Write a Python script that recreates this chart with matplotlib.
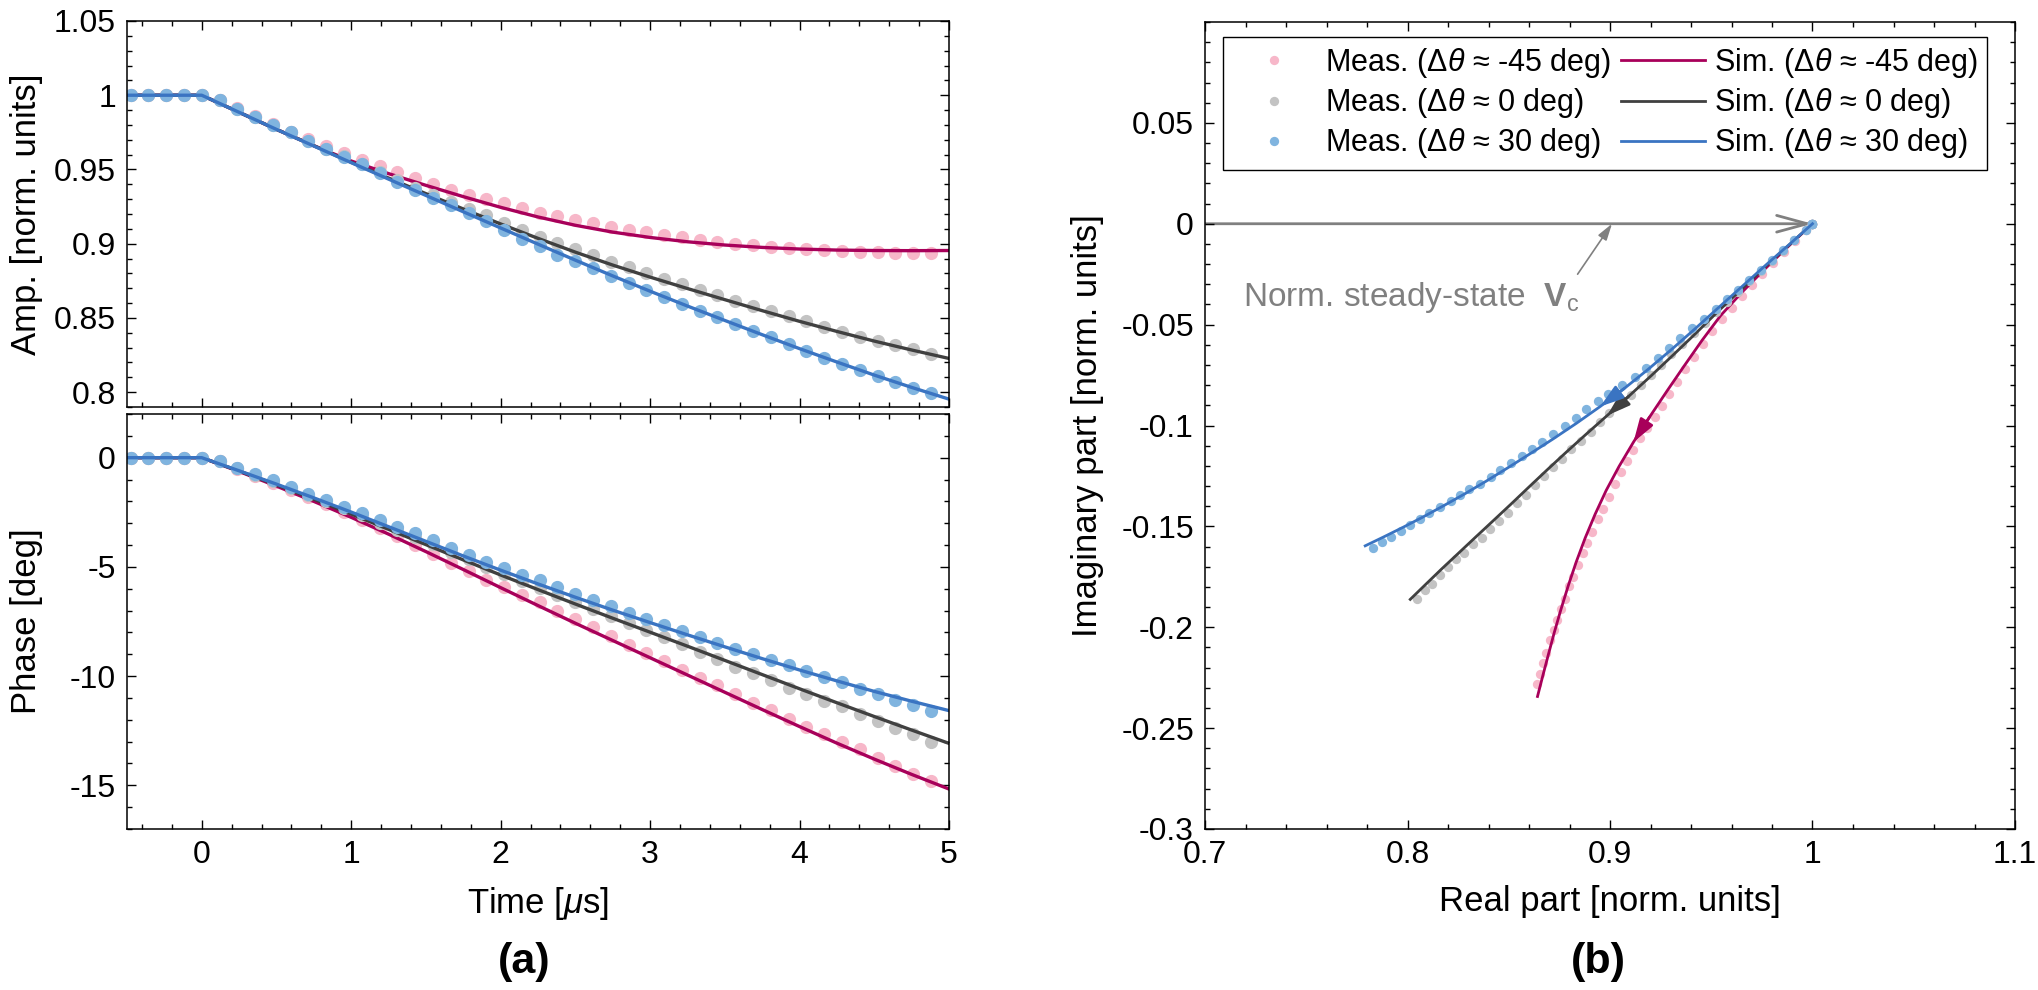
import numpy as np
import matplotlib
matplotlib.use("Agg")
import matplotlib.pyplot as plt
from matplotlib.patches import FancyArrowPatch
from matplotlib.ticker import MultipleLocator, FuncFormatter

# measured samples (time in us)
t_meas = [-0.476, -0.357, -0.238, -0.119, 0.0, 0.119, 0.238, 0.357, 0.476, 0.595,
          0.714, 0.833, 0.952, 1.071, 1.190, 1.309, 1.428, 1.547, 1.666, 1.785,
          1.904, 2.023, 2.142, 2.261, 2.380, 2.499, 2.618, 2.737, 2.856, 2.975,
          3.094, 3.213, 3.332, 3.451, 3.570, 3.689, 3.808, 3.927, 4.046, 4.165,
          4.284, 4.403, 4.522, 4.641, 4.760, 4.879]

amp_meas_m45 = [1.0, 1.0, 1.0, 1.0, 1.0,
                0.9966, 0.9912, 0.9860, 0.9805, 0.9755, 0.9705, 0.9660, 0.9610, 0.9565, 0.9520,
                0.9480, 0.9440, 0.9400, 0.9365, 0.9330, 0.9300,
                0.9271, 0.9238, 0.9210, 0.9184, 0.9160, 0.9137, 0.9115, 0.9095, 0.9076, 0.9059,
                0.9043, 0.9028, 0.9014, 0.9001, 0.8990, 0.8980, 0.8971, 0.8964, 0.8957, 0.8951,
                0.8946, 0.8942, 0.8939, 0.8937, 0.8936]
amp_meas_0 = [1.0, 1.0, 1.0, 1.0, 1.0,
              0.9966, 0.9910, 0.9854, 0.9800, 0.9750, 0.9690, 0.9637, 0.9588, 0.9536, 0.9480,
              0.9428, 0.9375, 0.9325, 0.9280, 0.9235, 0.9190,
              0.9142, 0.9093, 0.9044, 0.9004, 0.8964, 0.8924, 0.8880, 0.8842, 0.8802, 0.8765,
              0.8727, 0.8690, 0.8654, 0.8616, 0.8580, 0.8544, 0.8511, 0.8476, 0.8440, 0.8406,
              0.8373, 0.8343, 0.8315, 0.8288, 0.8260]
amp_meas_30 = [1.0, 1.0, 1.0, 1.0, 1.0,
               0.9966, 0.9910, 0.9854, 0.9800, 0.9750, 0.9690, 0.9637, 0.9586, 0.9534, 0.9474,
               0.9418, 0.9362, 0.9310, 0.9261, 0.9205, 0.9153,
               0.9093, 0.9031, 0.8982, 0.8927, 0.8882, 0.8833, 0.8782, 0.8733, 0.8687, 0.8642,
               0.8593, 0.8544, 0.8504, 0.8456, 0.8409, 0.8369, 0.8327, 0.8280, 0.8233, 0.8193,
               0.8149, 0.8112, 0.8071, 0.8031, 0.7993]

ph_meas_m45 = [0, 0, 0, 0, 0,
               -0.17, -0.50, -0.82, -1.14, -1.46, -1.79, -2.13, -2.48, -2.84, -3.21,
               -3.60, -4.00, -4.40, -4.80, -5.20, -5.58,
               -5.92, -6.28, -6.62, -7.00, -7.39, -7.74, -8.15, -8.57, -8.95, -9.31,
               -9.74, -10.08, -10.42, -10.82, -11.23, -11.54, -11.95, -12.31, -12.66, -13.00,
               -13.35, -13.77, -14.11, -14.46, -14.80]
ph_meas_0 = [0, 0, 0, 0, 0,
             -0.17, -0.48, -0.78, -1.07, -1.38, -1.69, -2.00, -2.32, -2.64, -2.97,
             -3.30, -3.63, -3.97, -4.32, -4.66, -5.00,
             -5.33, -5.64, -5.96, -6.28, -6.60, -6.92, -7.23, -7.57, -7.88, -8.20,
             -8.54, -8.89, -9.20, -9.57, -9.88, -10.20, -10.54, -10.80, -11.15, -11.39,
             -11.74, -12.05, -12.39, -12.66, -13.00]
ph_meas_30 = [0, 0, 0, 0, 0,
              -0.17, -0.47, -0.76, -1.04, -1.34, -1.64, -1.94, -2.24, -2.54, -2.85,
              -3.16, -3.47, -3.79, -4.13, -4.45, -4.76,
              -5.05, -5.35, -5.62, -5.90, -6.22, -6.53, -6.81, -7.10, -7.38, -7.66,
              -7.93, -8.22, -8.50, -8.76, -9.00, -9.26, -9.50, -9.75, -10.03, -10.28,
              -10.57, -10.82, -11.08, -11.34, -11.60]

# simulation
t_sim = [-0.5, 0.0, 0.25, 0.5, 0.75, 1.0, 1.25, 1.5, 1.75, 2.0, 2.25,
         2.5, 2.75, 3.0, 3.25, 3.5, 3.75, 4.0, 4.25, 4.5, 4.75, 5.0]
amp_sim_m45 = [1.0, 1.0, 0.9885, 0.9770, 0.9660, 0.9557, 0.9472, 0.9393, 0.9317, 0.9245, 0.9180,
               0.9124, 0.9078, 0.9042, 0.9013, 0.8991, 0.8975, 0.8964, 0.8957, 0.8954, 0.8953, 0.8954]
amp_sim_0 = [1.0, 1.0, 0.9885, 0.9770, 0.9660, 0.9548, 0.9442, 0.9337, 0.9234, 0.9133, 0.9036,
             0.8943, 0.8856, 0.8775, 0.8698, 0.8623, 0.8549, 0.8477, 0.8409, 0.8344, 0.8284, 0.8227]
amp_sim_30 = [1.0, 1.0, 0.9885, 0.9770, 0.9658, 0.9546, 0.9435, 0.9325, 0.9215, 0.9106, 0.8997,
              0.8889, 0.8783, 0.8680, 0.8580, 0.8483, 0.8387, 0.8293, 0.8203, 0.8115, 0.8032, 0.7953]
ph_sim_m45 = [0, 0, -0.63, -1.30, -2.00, -2.73, -3.50, -4.30, -5.12, -5.95, -6.77,
              -7.58, -8.37, -9.16, -9.95, -10.74, -11.53, -12.31, -13.07, -13.80, -14.50, -15.17]
ph_sim_0 = [0, 0, -0.61, -1.24, -1.90, -2.58, -3.28, -3.98, -4.68, -5.37, -6.04,
            -6.70, -7.35, -7.99, -8.63, -9.28, -9.93, -10.58, -11.22, -11.85, -12.47, -13.08]
ph_sim_30 = [0, 0, -0.60, -1.21, -1.84, -2.49, -3.16, -3.83, -4.50, -5.15, -5.78,
             -6.39, -6.98, -7.55, -8.11, -8.66, -9.20, -9.72, -10.22, -10.70, -11.15, -11.58]

labels_meas = [r'Meas. ($\Delta\theta$ ≈ -45 deg)', r'Meas. ($\Delta\theta$ ≈ 0 deg)',
               r'Meas. ($\Delta\theta$ ≈ 30 deg)']
labels_sim = [r'Sim. ($\Delta\theta$ ≈ -45 deg)', r'Sim. ($\Delta\theta$ ≈ 0 deg)',
              r'Sim. ($\Delta\theta$ ≈ 30 deg)']

# arrow heads on the IQ traces at this simulation time
t_arrow_from = 2.0
t_arrow_to = 2.25
# annotation of the steady-state vector
vc_text_pos = (0.719, -0.041)
vc_arrow_tail = (0.884, -0.025)
vc_arrow_head = (0.901, 0.0)

meas_colors = ['#F7B7C9', '#C3C3C3', '#80B4DF']
sim_colors = ['#A8005A', '#404040', '#3A74C2']
grey = '#808080'

plt.rcParams['font.family'] = ['Liberation Sans', 'DejaVu Sans']
plt.rcParams['mathtext.fontset'] = 'custom'
plt.rcParams['mathtext.rm'] = 'Liberation Sans'
plt.rcParams['mathtext.it'] = 'Liberation Sans:italic'
plt.rcParams['mathtext.bf'] = 'Liberation Sans:bold'
plt.rcParams['axes.unicode_minus'] = False

W, H = 2038, 990
fig = plt.figure(figsize=(W / 100, H / 100), dpi=100)
ax_amp = fig.add_axes([127 / W, 1 - 407 / H, 822 / W, 386 / H])
ax_ph = fig.add_axes([127 / W, 1 - 829 / H, 822 / W, 415 / H])
ax_iq = fig.add_axes([1205 / W, 1 - 829 / H, 810 / W, 807 / H])

fmt = FuncFormatter(lambda v, p: '%g' % round(v, 6))


def style(ax):
    ax.tick_params(which='both', direction='in', top=True, right=True,
                   labelsize=23, width=1.0, pad=8)
    ax.tick_params(which='major', length=6.5)
    ax.tick_params(which='minor', length=3.3)
    for s in ax.spines.values():
        s.set_linewidth(1.1)
    ax.xaxis.set_major_formatter(fmt)
    ax.yaxis.set_major_formatter(fmt)


amps_meas = [amp_meas_m45, amp_meas_0, amp_meas_30]
phs_meas = [ph_meas_m45, ph_meas_0, ph_meas_30]
amps_sim = [amp_sim_m45, amp_sim_0, amp_sim_30]
phs_sim = [ph_sim_m45, ph_sim_0, ph_sim_30]

# (a) amplitude and phase vs time: each case meas then sim
for i in range(3):
    ax_amp.plot(t_meas, amps_meas[i], 'o', color=meas_colors[i], ms=9.5, mec='none')
    ax_amp.plot(t_sim, amps_sim[i], '-', color=sim_colors[i], lw=2.4)
    ax_ph.plot(t_meas, phs_meas[i], 'o', color=meas_colors[i], ms=9.5, mec='none')
    ax_ph.plot(t_sim, phs_sim[i], '-', color=sim_colors[i], lw=2.4)

for ax in (ax_amp, ax_ph):
    style(ax)
    ax.set_xlim(-0.5, 5)
    ax.xaxis.set_major_locator(MultipleLocator(1))
    ax.xaxis.set_minor_locator(MultipleLocator(0.2))

ax_amp.set_ylim(0.79, 1.05)
ax_amp.set_yticks([0.8, 0.85, 0.9, 0.95, 1.0, 1.05])
ax_amp.yaxis.set_minor_locator(MultipleLocator(0.01))
ax_amp.tick_params(labelbottom=False)
ax_amp.set_ylabel('Amp. [norm. units]', fontsize=25)
ax_amp.yaxis.set_label_coords(-0.102, 0.5)

ax_ph.set_ylim(-17, 2)
ax_ph.set_yticks([-15, -10, -5, 0])
ax_ph.yaxis.set_minor_locator(MultipleLocator(1))
ax_ph.set_ylabel('Phase [deg]', fontsize=25)
ax_ph.yaxis.set_label_coords(-0.102, 0.5)
ax_ph.set_xlabel(r'Time [$\mu$s]', fontsize=25)
ax_ph.xaxis.set_label_coords(0.5, -0.135)

# (b) complex plane
ax_iq.add_patch(FancyArrowPatch((0.0, 0.0), (1.0, 0.0),
                                arrowstyle='->,head_length=22,head_width=6',
                                mutation_scale=1, color=grey, lw=2.0,
                                shrinkA=0, shrinkB=0, zorder=1.5))

handles_meas = []
handles_sim = []
ts = list(t_sim)
j0 = ts.index(t_arrow_from)
j1 = ts.index(t_arrow_to)
for i in range(3):
    a = np.array(amps_meas[i])
    p = np.radians(phs_meas[i])
    h, = ax_iq.plot(a * np.cos(p), a * np.sin(p), 'o', color=meas_colors[i],
                    ms=6.7, mec='none', label=labels_meas[i])
    handles_meas.append(h)

    a = np.array(amps_sim[i])
    p = np.radians(phs_sim[i])
    re = a * np.cos(p)
    im = a * np.sin(p)
    h, = ax_iq.plot(re, im, '-', color=sim_colors[i], lw=2.0, label=labels_sim[i])
    handles_sim.append(h)
    ax_iq.add_patch(FancyArrowPatch((re[j0], im[j0]), (re[j1], im[j1]),
                                    arrowstyle='-|>,head_length=14,head_width=4.5',
                                    mutation_scale=1, color=sim_colors[i], lw=2.0,
                                    shrinkA=0, shrinkB=0, zorder=3))

ax_iq.text(vc_text_pos[0], vc_text_pos[1], r'Norm. steady-state  $\mathbf{V}_\mathrm{c}$',
           color=grey, fontsize=24, va='baseline', ha='left')
ax_iq.annotate('', xy=vc_arrow_head, xytext=vc_arrow_tail,
               arrowprops=dict(arrowstyle='-|>,head_length=10,head_width=3',
                               mutation_scale=1, color=grey, lw=1.2,
                               shrinkA=0, shrinkB=0))

style(ax_iq)
ax_iq.set_xlim(0.7, 1.1)
ax_iq.set_ylim(-0.3, 0.1)
ax_iq.set_xticks([0.7, 0.8, 0.9, 1.0, 1.1])
ax_iq.xaxis.set_minor_locator(MultipleLocator(0.02))
ax_iq.set_yticks([-0.3, -0.25, -0.2, -0.15, -0.1, -0.05, 0.0, 0.05])
ax_iq.yaxis.set_minor_locator(MultipleLocator(0.01))
ax_iq.set_xlabel('Real part [norm. units]', fontsize=25)
ax_iq.xaxis.set_label_coords(0.5, -0.07)
ax_iq.set_ylabel('Imaginary part [norm. units]', fontsize=25)
ax_iq.yaxis.set_label_coords(-0.125, 0.5)

leg = ax_iq.legend(handles_meas + handles_sim, labels_meas + labels_sim, ncol=2,
                   loc='upper right', bbox_to_anchor=(0.9654, 0.9814), borderaxespad=0,
                   fontsize=22, frameon=True, fancybox=False, framealpha=1,
                   edgecolor='black', handlelength=2.75, handletextpad=0.3,
                   columnspacing=0.3, labelspacing=0.2, borderpad=0.3)
leg.get_frame().set_linewidth(1.0)

fig.text(524 / W, 1 - 962 / H, '(a)', ha='center', va='center', fontsize=31, fontweight='bold')
fig.text(1598 / W, 1 - 962 / H, '(b)', ha='center', va='center', fontsize=31, fontweight='bold')

fig.savefig('out.png', dpi=100)
